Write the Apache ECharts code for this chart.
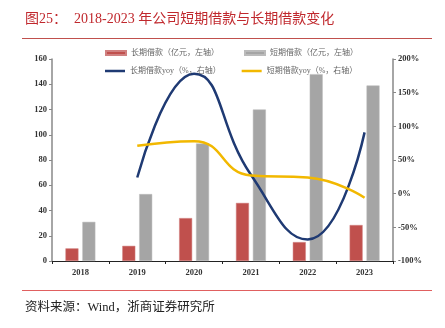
<!DOCTYPE html>
<html><head><meta charset="utf-8">
<script src="https://cdn.jsdelivr.net/npm/echarts@6/dist/echarts.min.js"></script>
<style>html,body{margin:0;padding:0;background:#fff}#c{width:445px;height:328px}</style>
</head><body><div id="c"></div>
<script>
const categories = ['2018','2019','2020','2021','2022','2023'];
const longLoan = [10, 12, 34, 46, 15, 28.5];
const shortLoan = [31, 53, 93, 120, 148, 139];
const longYoy = [null, 24, 178, 28, -68, 91];
const shortYoy = [null, 71, 78, 27, 24, -6];
const leftTicks = [0, 160, 20];
const rightTicks = [-100, 200, 50];

const serif = '"Liberation Serif","Times New Roman",serif';
const cjk = '"Liberation Serif","Noto Sans CJK SC",serif';
const chart = echarts.init(document.getElementById('c'));
chart.setOption({
  animation: false,
  title: [
    {text: '图25：  2018-2023 年公司短期借款与长期借款变化', left: 20, top: 7,
     textStyle: {fontFamily: cjk, fontSize: 14, fontWeight: 'normal', color: '#c0282d'}},
    {text: '资料来源：Wind，浙商证券研究所', left: 20, top: 296,
     textStyle: {fontFamily: cjk, fontSize: 12.5, fontWeight: 'normal', color: '#222'}}
  ],
  graphic: [
    {type: 'line', shape: {x1: 22, y1: 38.5, x2: 432, y2: 38.5}, style: {stroke: '#c0504d', lineWidth: 1}},
    {type: 'line', shape: {x1: 22, y1: 290.5, x2: 432, y2: 290.5}, style: {stroke: '#e06060', lineWidth: 1}}
  ],
  legend: [
    {left: 100, top: 44, itemWidth: 20, itemHeight: 4, itemGap: 25, icon: 'rect',
     data: ['长期借款（亿元，左轴）', '短期借款（亿元，左轴）'],
     textStyle: {fontSize: 8, color: '#666', fontFamily: cjk}},
    {left: 100, top: 62, itemWidth: 20, itemHeight: 4, itemGap: 21,
     data: [{name: '长期借款yoy（%，右轴）', icon: 'path://M0,0H20V2.5H0Z'}, {name: '短期借款yoy（%，右轴）', icon: 'path://M0,0H20V2.5H0Z'}],
     textStyle: {fontSize: 8, color: '#666', fontFamily: cjk}}
  ],
  grid: {left: 52, right: 52, top: 59, bottom: 67},
  xAxis: {
    type: 'category', data: categories,
    axisLine: {lineStyle: {color: '#222', width: 1}},
    axisTick: {show: true, length: 3, lineStyle: {color: '#222'}},
    axisLabel: {fontFamily: serif, fontWeight: 'bold', fontSize: 8.5, color: '#333', margin: 7}
  },
  yAxis: [
    {type: 'value', min: leftTicks[0], max: leftTicks[1], interval: leftTicks[2],
     axisLine: {show: true, lineStyle: {color: '#888', width: 1.5}},
     axisTick: {show: true, length: 3, lineStyle: {color: '#888'}},
     splitLine: {show: false},
     axisLabel: {fontFamily: serif, fontWeight: 'bold', fontSize: 8.5, color: '#333', margin: 5}},
    {type: 'value', min: rightTicks[0], max: rightTicks[1], interval: rightTicks[2],
     axisLine: {show: true, lineStyle: {color: '#888', width: 1.5}},
     axisTick: {show: true, length: 3, lineStyle: {color: '#888'}},
     splitLine: {show: false},
     axisLabel: {fontFamily: serif, fontWeight: 'bold', fontSize: 8.5, color: '#333', margin: 5, formatter: '{value}%'}}
  ],
  series: [
    {name: '长期借款（亿元，左轴）', type: 'bar', data: longLoan, barWidth: 13, barGap: '30%',
     itemStyle: {color: '#c0504d', borderColor: '#d08080', borderWidth: 0.5}},
    {name: '短期借款（亿元，左轴）', type: 'bar', data: shortLoan, barWidth: 13, barGap: '30%',
     itemStyle: {color: '#a5a5a5', borderColor: '#bbb', borderWidth: 0.5}},
    {name: '长期借款yoy（%，右轴）', type: 'line', yAxisIndex: 1, data: longYoy, smooth: 0.5,
     showSymbol: false, symbol: 'none', lineStyle: {color: '#1f3a73', width: 2.5}, itemStyle: {color: '#1f3a73'}},
    {name: '短期借款yoy（%，右轴）', type: 'line', yAxisIndex: 1, data: shortYoy, smooth: 0.5,
     showSymbol: false, symbol: 'none', lineStyle: {color: '#f2b800', width: 2.5}, itemStyle: {color: '#f2b800'}}
  ]
});
</script></body></html>
